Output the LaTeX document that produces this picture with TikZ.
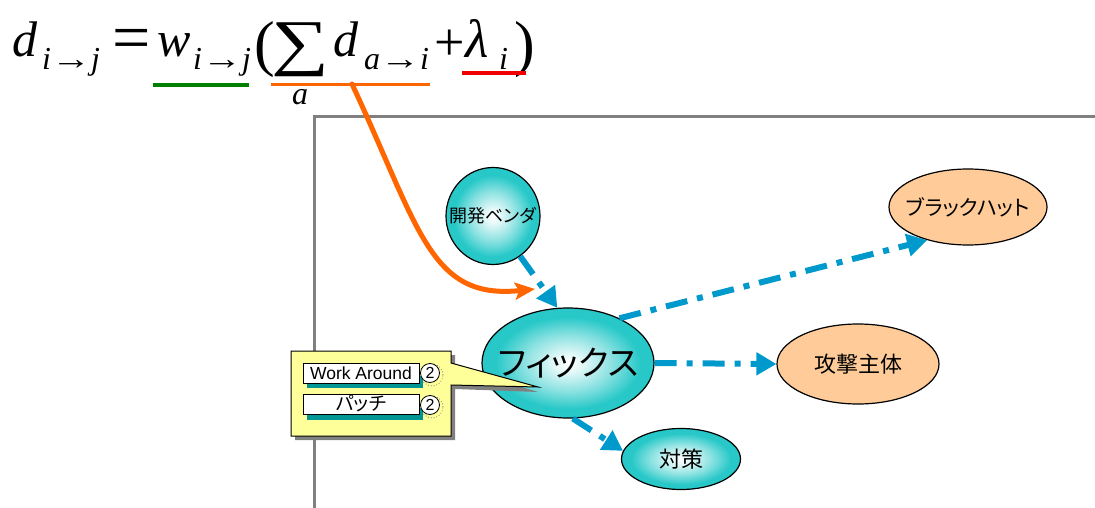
\documentclass[tikz,border=0pt]{standalone}
\usepackage{fontspec}
\usepackage{graphicx}
\usetikzlibrary{shapes.geometric,arrows.meta}
\newfontfamily\eqf{Liberation Serif}
\newfontfamily\jpf[RawFeature=+palt]{Noto Sans CJK JP}
\newfontfamily\lsans{Liberation Sans}
\definecolor{teal1}{RGB}{40,200,200}
\definecolor{peach1}{RGB}{255,204,153}
\definecolor{flowblue}{RGB}{0,153,204}
\definecolor{orange1}{RGB}{255,102,0}
\definecolor{green1}{RGB}{0,128,0}
\definecolor{red1}{RGB}{240,0,0}
\definecolor{framegray}{RGB}{128,128,128}
\definecolor{note}{RGB}{255,255,153}
\definecolor{teal2}{RGB}{0,150,150}
\colorlet{tealmid}{white!45!teal1}
\colorlet{teallight}{white!88!teal1}
\pgfdeclareradialshading{tealball}{\pgfpoint{0bp}{0bp}}{color(0bp)=(white); color(4bp)=(teallight); color(13bp)=(tealmid); color(21bp)=(teal1); color(25bp)=(teal1); color(50bp)=(teal1)}
\tikzset{
  eqbig/.style={inner sep=0pt, anchor=base west, font=\eqf\itshape\fontsize{50}{50}\selectfont},
  eqsub/.style={inner sep=0pt, anchor=base west, font=\eqf\itshape\fontsize{32}{32}\selectfont},
  eqop/.style={inner sep=0pt, anchor=base west, font=\eqf\fontsize{#1}{#1}\selectfont},
  tealnode/.style={ellipse, draw=black, line width=1.2pt, shading=tealball, inner sep=0pt},
  peachnode/.style={ellipse, draw=black, line width=1.2pt, fill=peach1, inner sep=0pt},
  jp/.style={font=\jpf\fontsize{#1}{#1}\selectfont},
  flow/.style={draw=flowblue, line width=6pt, dash pattern=on 22pt off 10pt on 6pt off 10pt,
     -{Triangle[length=20pt,width=22pt]}},
  lbl/.style={draw=black, line width=0.8pt, fill=white, minimum width=116pt, minimum height=20pt,
     inner sep=0pt},
  num/.style={circle, draw=black, line width=0.8pt, fill=white, minimum size=19pt, inner sep=0pt,
     font=\lsans\fontsize{16}{16}\selectfont}
}
\newcommand{\ztext}[1]{\makebox[0pt][c]{#1}}
\newcommand{\longar}{{\upshape\scalebox{1.25}[1]{→}}}
\begin{document}
\begin{tikzpicture}[x=1pt,y=-1pt]
\useasboundingbox (0,0) rectangle (1095,508);
\fill[white] (0,0) rectangle (1095,508);
% frame
\draw[framegray, line width=3pt] (314,530) -- (314,117) -- (1110,117);
% equation
\node[eqbig] (d1) at (12,57) {d};
\node[eqsub] (s1) at (42,70) {i\longar j};
\node[eqop=68] (eq) at (112,61) {=};
\node[eqbig] (w) at (157,57) {w};
\node[eqsub] (s2) at (193,70) {i\longar j};
\node[eqop=62] (lp) at (254,65) {(};
\node[inner sep=0pt, anchor=north west] (sum) at (271,23) {\resizebox*{58pt}{54pt}{\eqf ∑}};
\node[eqsub] (sa) at (292,105) {a};
\node[eqbig] (d2) at (333,57) {d};
\node[eqsub] (s3) at (364,70) {a\longar i};
\node[eqop=54] (plus) at (434,60.5) {+};
\node[eqbig] (lam) at (465,58) {\fontsize{54}{54}\selectfont λ};
\node[eqsub] (s4) at (499,70) {i};
\node[eqop=62] (rp) at (514,65) {)};
\draw[green1, line width=4pt] (153,85) -- (249,85);
\draw[orange1, line width=3pt] (271,85) -- (430,85);
\draw[red1, line width=4pt] (462,73) -- (526,73);
% nodes
\node[tealnode, minimum width=94pt, minimum height=97pt, jp=18] (dev) at (493,216) {\ztext{開発ベンダ}};
\node[tealnode, minimum width=172pt, minimum height=110pt, jp=34] (fix) at (568,363) {\ztext{フィックス}};
\node[peachnode, minimum width=158pt, minimum height=76pt, jp=21] (bh) at (968,207) {\ztext{ブラックハット}};
\node[peachnode, minimum width=162pt, minimum height=80pt, jp=22] (atk) at (858,364) {\ztext{攻撃主体}};
\node[tealnode, minimum width=119pt, minimum height=61pt, jp=22] (cm) at (681,459) {\ztext{対策}};
% flows
\draw[flow] (dev.-56) -- (fix.101);
\draw[flow] (fix.41) -- (bh.219);
\draw[flow] (fix.east) -- (atk.west);
\draw[flow] (fix.-85) -- (cm.172);
% orange arrow
\coordinate (ustart) at (352,84);
\coordinate (oend) at (535,289);
\draw[orange1, line width=5pt, line cap=round, -{Stealth[length=20pt,width=17pt,inset=4pt]}]
  (ustart) .. controls (420,230) and (430,300) .. (oend);
% callout
\fill[framegray] (295,355) -- (455,355) -- (455,367) -- (538,392) -- (455,389) -- (455,440) -- (295,440) -- cycle;
\draw[black, line width=1pt, fill=note] (291,351) -- (451,351) -- (451,363) -- (538,387) -- (451,385) -- (451,436) -- (291,436) -- cycle;
\fill[teal2] (307,376) rectangle (423,388);
\fill[teal2] (307,408) rectangle (423,420);
\node[lbl, font=\lsans\fontsize{17.5}{17.5}\selectfont] (wa) at (361,373) {\ztext{Work Around}};
\node[lbl, jp=19] (pt) at (361,404) {\ztext{パッチ}};
\draw[gray, dotted, line width=0.8pt] (432,375) circle (11pt);
\draw[gray, dotted, line width=0.8pt] (432,407) circle (11pt);
\node[num] (n1) at (430,373) {2};
\node[num] (n2) at (430,405) {2};
\end{tikzpicture}
\end{document}
